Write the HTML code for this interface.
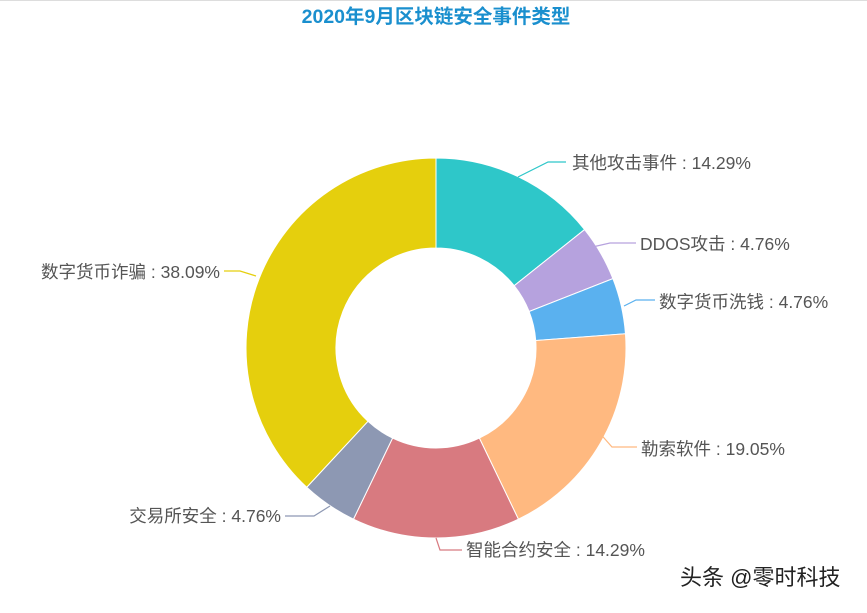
<!DOCTYPE html>
<html><head><meta charset="utf-8"><style>
body{margin:0;background:#fff;}
svg text{font-family:"Liberation Sans","Noto Sans CJK SC",sans-serif;}
</style></head><body>
<svg id="s" width="867" height="608" xmlns="http://www.w3.org/2000/svg">
<rect width="867" height="608" fill="#fff"/>
<line x1="0" y1="0.5" x2="867" y2="0.5" stroke="#ddd"/>
<text x="436" y="23" text-anchor="middle" font-size="19.5" font-weight="bold" fill="#1a8fce">2020年9月区块链安全事件类型</text>
<g id="g"></g>
<g font-size="17.5" fill="#555">
<text x="572" y="169">其他攻击事件 : 14.29%</text>
<text x="640" y="250">DDOS攻击 : 4.76%</text>
<text x="659" y="308">数字货币洗钱 : 4.76%</text>
<text x="641" y="455">勒索软件 : 19.05%</text>
<text x="466" y="556">智能合约安全 : 14.29%</text>
<text x="281" y="522" text-anchor="end">交易所安全 : 4.76%</text>
<text x="220" y="278" text-anchor="end">数字货币诈骗 : 38.09%</text>
</g>
<text x="680" y="585" font-size="22" fill="#222">头条 @零时科技</text>
</svg>
<script>
var cx=436,cy=348,R=190,r=100;
var d=[[14.29,"#2ec7c9"],[4.76,"#b6a2de"],[4.76,"#5ab1ef"],[19.05,"#ffb980"],[14.29,"#d87a80"],[4.76,"#8d98b3"],[38.09,"#e5cf0d"]];
var tot=0;d.forEach(function(e){tot+=e[0]});
var a=0,h="";
function P(rad,ang){return [cx+rad*Math.sin(ang),cy-rad*Math.cos(ang)];}
d.forEach(function(e){
 var a2=a+e[0]/tot*2*Math.PI,l=(a2-a)>Math.PI?1:0;
 var p1=P(R,a),p2=P(R,a2),p3=P(r,a2),p4=P(r,a);
 h+='<path d="M'+p1+' A'+R+','+R+' 0 '+l+' 1 '+p2+' L'+p3+' A'+r+','+r+' 0 '+l+' 0 '+p4+' Z" fill="'+e[1]+'" stroke="#fff" stroke-width="1"/>';
 a=a2;
});
var L=[[[518,177],[548,162],[566,162],"#2ec7c9"],[[588,248],[610,243],[636,243],"#b6a2de"],[[624,306],[636,300],[655,300],"#5ab1ef"],[[597,430],[612,447],[637,447],"#ffb980"],[[436,538],[440,550],[462,550],"#d87a80"],[[330,506],[314,516],[285,516],"#8d98b3"],[[256,276],[240,271],[224,271],"#e5cf0d"]];
L.forEach(function(e){h+='<polyline points="'+e[0]+' '+e[1]+' '+e[2]+'" fill="none" stroke="'+e[3]+'" stroke-width="1.2"/>';});
document.getElementById("g").innerHTML=h;
</script>
</body></html>
